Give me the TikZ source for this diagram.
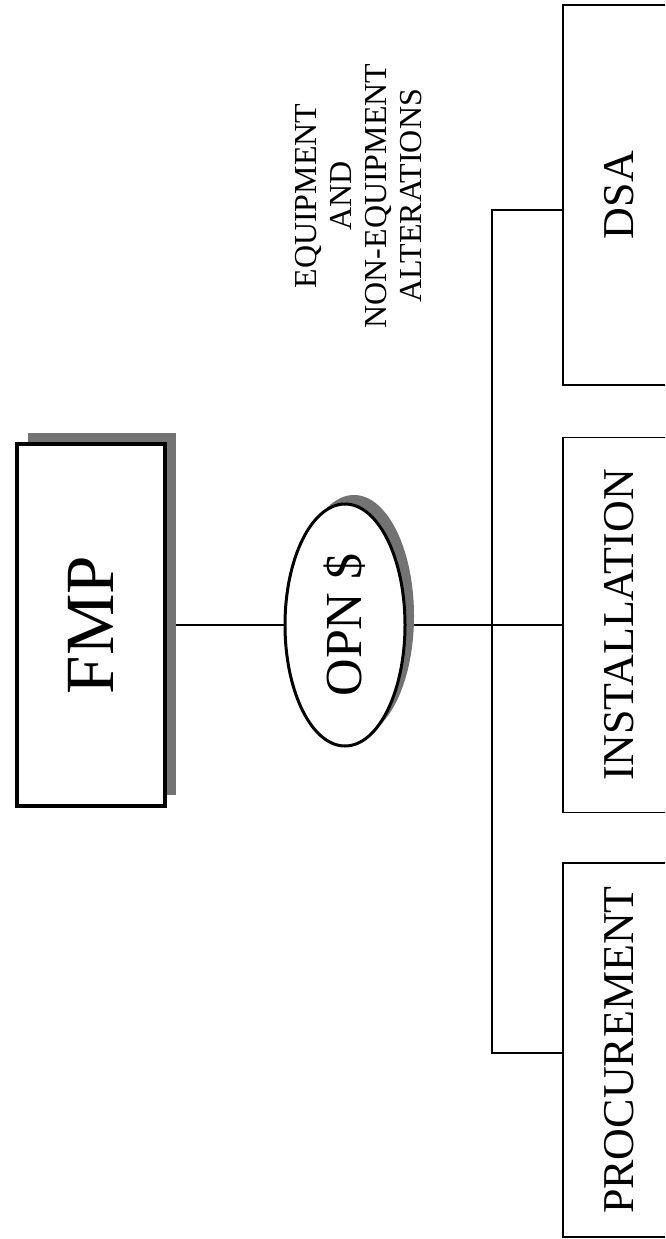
\documentclass[tikz,border=0pt]{standalone}
\usepackage{fontspec}
\setmainfont{Liberation Serif}
\usetikzlibrary{shadows,backgrounds,shapes.geometric}

\tikzset{
  unit/.style={x=1pt,y=-1pt},
  shade fill/.style={fill=black!55},
  topbox/.style={draw,line width=4.5pt,fill=white,inner sep=0pt,
    drop shadow={shadow xshift=11pt,shadow yshift=11pt,shade fill,opacity=1}},
  fundnode/.style={ellipse,draw,line width=3pt,fill=white,inner sep=0pt,
    minimum width=120pt,minimum height=242pt,
    drop shadow={shadow xshift=9pt,shadow yshift=9pt,shade fill,opacity=1}},
  leafbox/.style={draw,line width=1.8pt,fill=white,inner sep=0pt,
    minimum width=112pt,font=\fontsize{44}{48}\selectfont},
  link/.style={line width=1.6pt},
}

\begin{document}
\begin{tikzpicture}[unit]
\useasboundingbox (0,0) rectangle (665,1239);
\clip (0,0) rectangle (665,1239);

% top of the hierarchy
\node[topbox,minimum width=148pt,minimum height=362pt,
      font=\fontsize{69}{72}\selectfont] (fmp) at (91,625) {\rotatebox{90}{FMP}\hspace{4pt}};

% funding source
\node[fundnode] (opn) at (345,625) {\rotatebox{90}{\fontsize{52}{56}\selectfont OPN \$}};

% scope note
\node[rotate=90,align=center,font=\fontsize{32}{35}\selectfont] (note) at (359,196)
  {EQUIPMENT\\AND\\NON-EQUIPMENT\\ALTERATIONS};

% funded activities (boxes run past the right margin)
\node[leafbox,minimum height=380pt] (dsa)  at (619,195)    {\rotatebox{90}{DSA}};
\node[leafbox,minimum height=375pt] (inst) at (619,625)    {\rotatebox{90}{INSTALLATION}};
\node[leafbox,minimum height=374pt] (proc) at (619,1050)   {\rotatebox{90}{PROCUREMENT}};

\coordinate (busTop) at (492,210);
\coordinate (busBot) at (492,1053);

\begin{scope}[on background layer]
  \draw[link] (fmp.east) -- (opn.west);
  \draw[link] (opn.east) -- (inst.west);
  \draw[link] (dsa.west |- busTop) -- (busTop) -- (busBot) -- (proc.west |- busBot);
\end{scope}
\end{tikzpicture}
\end{document}
